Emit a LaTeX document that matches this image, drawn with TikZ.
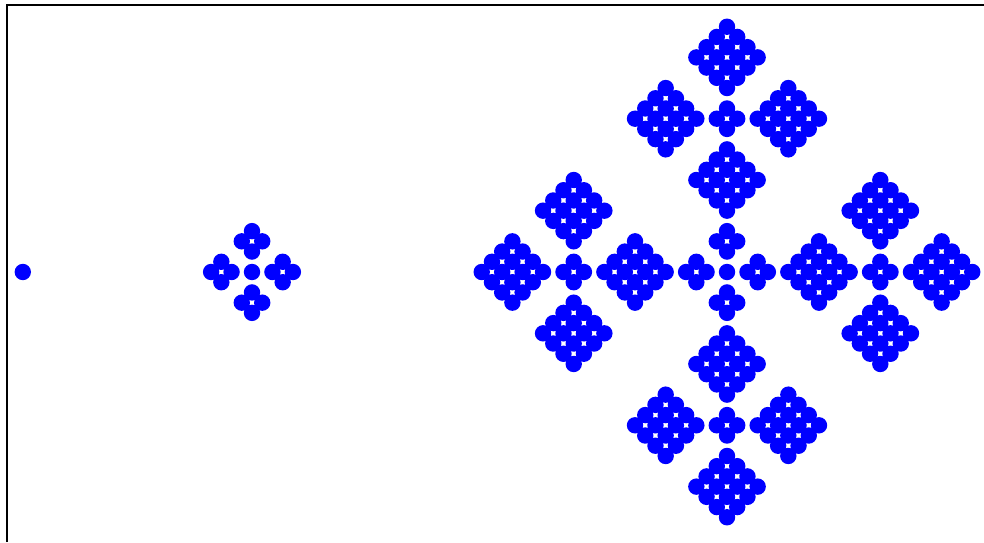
\documentclass[tikz,border=0pt]{standalone}
\definecolor{dotblue}{RGB}{0,0,255}
\tikzset{
  fdot/.style={fill=dotblue},
  framestyle/.style={draw=black, line width=2pt},
  fracunit/.style={x=10.22pt, y=10.22pt}
}
\newcommand\FracDot[2]{\fill[fdot] (#1,#2) circle[radius=8.2pt];}
\newcommand\FracPlus[2]{%
  \foreach \dx/\dy in {1/0,-1/0,0/1,0/-1}{%
    \fill[fdot] ({#1+\dx},{#2+\dy}) circle[radius=8.2pt];}}
\newcommand\FracDiam[2]{%
  \foreach \dx/\dy in {3/0,-3/0,0/3,0/-3,1/0,-1/0,0/1,0/-1,1/2,1/-2,-1/2,-1/-2,2/1,2/-1,-2/1,-2/-1}{%
    \fill[fdot] ({#1+\dx},{#2+\dy}) circle[radius=8.2pt];}}
\begin{document}
\begin{tikzpicture}[x=1pt,y=1pt]
\useasboundingbox (0,0) rectangle (984,542);
% frame (top and left edges visible)
\draw[framestyle] (7,0) -- (7,537) -- (984,537);
% level 0
\begin{scope}[shift={(22.8pt,270pt)}, fracunit]
  \FracDot{0}{0}
\end{scope}
% level 1
\begin{scope}[shift={(252pt,270pt)}, fracunit]
  \FracDot{0}{0}
  \foreach \px/\py in {3/0,-3/0,0/3,0/-3}{\FracPlus{\px}{\py}}
\end{scope}
% level 2
\begin{scope}[shift={(727pt,270pt)}, fracunit]
  \FracDot{0}{0}
  \foreach \px/\py in {3/0,-3/0,0/3,0/-3,15/0,-15/0,0/15,0/-15}{\FracPlus{\px}{\py}}
  \foreach \px/\py in {9/0,-9/0,0/9,0/-9,21/0,-21/0,0/21,0/-21,
                       15/6,15/-6,-15/6,-15/-6,6/15,-6/15,6/-15,-6/-15}{\FracDiam{\px}{\py}}
\end{scope}
\end{tikzpicture}
\end{document}
